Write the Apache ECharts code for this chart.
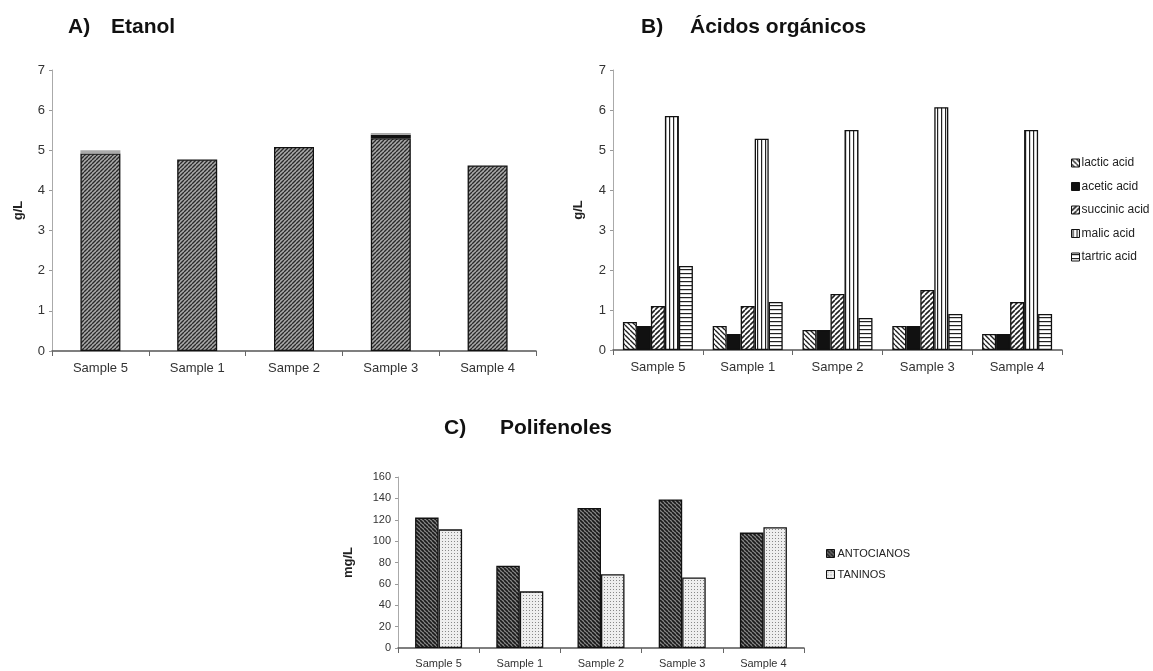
<!DOCTYPE html>
<html>
<head>
<meta charset="utf-8">
<script src="https://cdn.jsdelivr.net/npm/echarts@6/dist/echarts.min.js"></script>
<style>
html,body{margin:0;padding:0;background:#fff;}
#c{width:1153px;height:671px;}
</style>
</head>
<body>
<div id="c"></div>
<script>
// ---- data ----
const catsAB = ['Sample 5', 'Sample 1', 'Sampe 2', 'Sample 3', 'Sample 4'];
const catsC = ['Sample 5', 'Sample 1', 'Sample 2', 'Sample 3', 'Sample 4'];
const etanolMain = [4.92, 4.77, 5.08, 5.3, 4.62];
const etanolDarkCap = [0, 0, 0, 0.09, 0];
const etanolGreyCap = [0.08, 0, 0, 0.04, 0];
const lactic = [0.7, 0.6, 0.5, 0.6, 0.4];
const acetic = [0.6, 0.4, 0.5, 0.6, 0.4];
const succinic = [1.1, 1.1, 1.4, 1.5, 1.2];
const malic = [5.85, 5.28, 5.5, 6.07, 5.5];
const tartric = [2.1, 1.2, 0.8, 0.9, 0.9];
const antocianos = [122, 77, 131, 139, 108];
const taninos = [111, 53, 69, 66, 113];
const ticksAB = [0, 1, 2, 3, 4, 5, 6, 7];
const ticksC = [0, 20, 40, 60, 80, 100, 120, 140, 160];

// ---- patterns ----
function pat(w, h, draw) {
  const c = document.createElement('canvas');
  c.width = w; c.height = h;
  const g = c.getContext('2d');
  g.fillStyle = '#fff'; g.fillRect(0, 0, w, h);
  draw(g, w, h);
  return { image: c, repeat: 'repeat' };
}
function diag(g, w, h, dir, color, lw) {
  g.strokeStyle = color; g.lineWidth = lw;
  g.beginPath();
  for (let k = -2; k <= 2; k++) {
    if (dir > 0) { g.moveTo(k * w, h); g.lineTo(k * w + w, 0); }
    else { g.moveTo(k * w, 0); g.lineTo(k * w + w, h); }
  }
  g.stroke();
}
const pEtanol = pat(4, 4, (g, w, h) => {
  g.fillStyle = '#aaa'; g.fillRect(0, 0, w, h);
  diag(g, w, h, 1, '#2a2a2a', 1.4);
});
const pLactic = pat(5, 5, (g, w, h) => diag(g, w, h, -1, '#222', 1.4));
const pAcetic = '#111';
const pSuccinic = pat(5, 5, (g, w, h) => diag(g, w, h, 1, '#222', 1.6));
const pMalic = pat(4, 4, (g, w, h) => { g.fillStyle = '#222'; g.fillRect(1, 0, 1.2, h); });
const pTartric = pat(4, 4, (g, w, h) => { g.fillStyle = '#222'; g.fillRect(0, 1, w, 1.2); });
const pAnto = pat(4, 4, (g, w, h) => {
  g.fillStyle = '#888'; g.fillRect(0, 0, w, h);
  diag(g, w, h, -1, '#1a1a1a', 1.7);
});
const pTan = pat(3, 3, (g, w, h) => {
  g.fillStyle = '#eee'; g.fillRect(0, 0, w, h);
  g.fillStyle = '#888'; g.fillRect(1, 1, 1, 1);
});

const font = 'Liberation Sans, Arial, sans-serif';
const border = { borderColor: '#111', borderWidth: 1.3 };

function xAx(gi, cats, fs, margin) {
  return {
    type: 'category', gridIndex: gi, data: cats,
    axisLine: { lineStyle: { color: '#555', width: 1.5 } },
    axisTick: { show: true, length: 5, lineStyle: { color: '#666' } },
    axisLabel: { color: '#333', fontSize: fs, fontFamily: font, margin: margin, interval: 0 }
  };
}
function yAx(gi, ticks, fs, name, gap) {
  return {
    type: 'value', gridIndex: gi, min: ticks[0], max: ticks[ticks.length - 1],
    interval: ticks[1] - ticks[0],
    name: name, nameLocation: 'middle', nameGap: gap, nameRotate: 90,
    nameTextStyle: { fontWeight: 'bold', fontSize: 13, color: '#222', fontFamily: font },
    splitLine: { show: false },
    axisLine: { show: true, lineStyle: { color: '#aaa', width: 1 } },
    axisTick: { show: true, length: 3, lineStyle: { color: '#999' } },
    axisLabel: { color: '#333', fontSize: fs, fontFamily: font, margin: 7 }
  };
}

const chart = echarts.init(document.getElementById('c'), null, { renderer: 'canvas' });
const titleStyle = { fontWeight: 'bold', fontSize: 21, color: '#111', fontFamily: font };
chart.setOption({
  animation: false,
  backgroundColor: '#fff',
  title: [
    { text: 'A)', left: 63, top: 12, textStyle: titleStyle },
    { text: 'Etanol', left: 106, top: 12, textStyle: titleStyle },
    { text: 'B)', left: 636, top: 12, textStyle: titleStyle },
    { text: 'Ácidos orgánicos', left: 685, top: 12, textStyle: titleStyle },
    { text: 'C)', left: 439, top: 413, textStyle: titleStyle },
    { text: 'Polifenoles', left: 495, top: 413, textStyle: titleStyle }
  ],
  grid: [
    { left: 52, top: 70, width: 484, height: 281 },
    { left: 613, top: 70, width: 449, height: 280 },
    { left: 398, top: 477, width: 406, height: 171 }
  ],
  xAxis: [xAx(0, catsAB, 13, 11), xAx(1, catsAB, 13, 11), xAx(2, catsC, 11, 10)],
  yAxis: [yAx(0, ticksAB, 13, 'g/L', 27), yAx(1, ticksAB, 13, 'g/L', 28), yAx(2, ticksC, 11, 'mg/L', 43)],
  legend: [
    {
      data: ['lactic acid', 'acetic acid', 'succinic acid', 'malic acid', 'tartric acid'],
      orient: 'vertical', left: 1066, top: 152, itemWidth: 8, itemHeight: 8, itemGap: 11.5,
      icon: 'rect',
      textStyle: { fontSize: 12, color: '#222', fontFamily: font, padding: [0, 0, 0, -3] },
      itemStyle: { borderColor: '#111', borderWidth: 1 }
    },
    {
      data: ['ANTOCIANOS', 'TANINOS'],
      orient: 'vertical', left: 821, top: 543, itemWidth: 8, itemHeight: 8, itemGap: 10,
      icon: 'rect',
      textStyle: { fontSize: 11, color: '#222', fontFamily: font, padding: [0, 0, 0, -2] },
      itemStyle: { borderColor: '#111', borderWidth: 1 }
    }
  ],
  series: [
    { name: 'Etanol', type: 'bar', xAxisIndex: 0, yAxisIndex: 0, stack: 'et', data: etanolMain, barWidth: 40,
      itemStyle: Object.assign({ color: pEtanol }, border) },
    { name: 'etDark', type: 'bar', xAxisIndex: 0, yAxisIndex: 0, stack: 'et', data: etanolDarkCap, barWidth: 40,
      itemStyle: { color: '#111', borderWidth: 0 } },
    { name: 'etGrey', type: 'bar', xAxisIndex: 0, yAxisIndex: 0, stack: 'et', data: etanolGreyCap, barWidth: 40,
      itemStyle: { color: '#aaa', borderWidth: 0 } },

    { name: 'lactic acid', type: 'bar', xAxisIndex: 1, yAxisIndex: 1, data: lactic, barWidth: 14, barGap: '0%',
      itemStyle: Object.assign({ color: pLactic }, border) },
    { name: 'acetic acid', type: 'bar', xAxisIndex: 1, yAxisIndex: 1, data: acetic, barWidth: 14, barGap: '0%',
      itemStyle: Object.assign({ color: pAcetic }, border) },
    { name: 'succinic acid', type: 'bar', xAxisIndex: 1, yAxisIndex: 1, data: succinic, barWidth: 14, barGap: '0%',
      itemStyle: Object.assign({ color: pSuccinic }, border) },
    { name: 'malic acid', type: 'bar', xAxisIndex: 1, yAxisIndex: 1, data: malic, barWidth: 14, barGap: '0%',
      itemStyle: Object.assign({ color: pMalic }, border) },
    { name: 'tartric acid', type: 'bar', xAxisIndex: 1, yAxisIndex: 1, data: tartric, barWidth: 14, barGap: '0%',
      itemStyle: Object.assign({ color: pTartric }, border) },

    { name: 'ANTOCIANOS', type: 'bar', xAxisIndex: 2, yAxisIndex: 2, data: antocianos, barWidth: 23.5, barGap: '0%',
      itemStyle: Object.assign({ color: pAnto }, border) },
    { name: 'TANINOS', type: 'bar', xAxisIndex: 2, yAxisIndex: 2, data: taninos, barWidth: 23.5, barGap: '0%',
      itemStyle: Object.assign({ color: pTan }, border) }
  ]
});
</script>
</body>
</html>
